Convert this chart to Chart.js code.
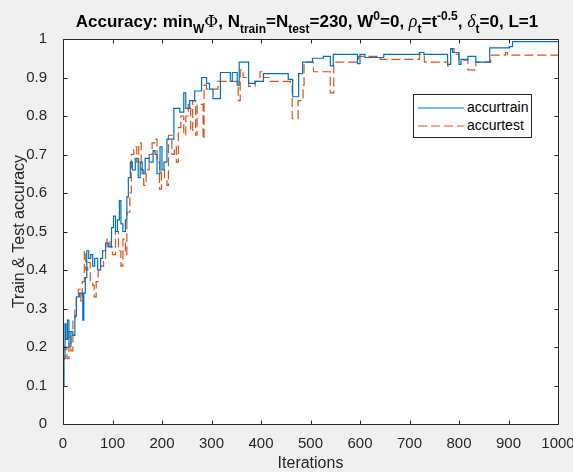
<!DOCTYPE html>
<html>
<head>
<meta charset="utf-8">
<script src="https://cdn.jsdelivr.net/npm/chart.js@4.4.0/dist/chart.umd.min.js"></script>
<style>
  body { margin: 0; background: #f0f0f0; }
  #wrap { position: relative; width: 573px; height: 472px; }
  #titulo {
    position: absolute; left: 0; width: 614px; top: 11px; text-align: center;
    font: bold 17px "Liberation Sans", Arial, sans-serif; color: #000; white-space: nowrap;
    line-height: 20px;
  }
  #titulo .sb { position: relative; top: 6px; font-size: 12px; }
  #titulo .sp { position: relative; top: -7px; font-size: 12px; }
  #titulo .gr { font-family: "DejaVu Serif", "Liberation Serif", serif; font-weight: normal; }
  #titulo .gi { font-family: "Liberation Serif", serif; font-style: italic; font-weight: normal; font-size: 18px; }
  #leyenda {
    position: absolute; left: 413px; top: 94px; width: 117px; height: 42px;
    background: #fff; border: 1px solid #262626;
    font: 14px "Liberation Sans", Arial, sans-serif; color: #000;
  }
  #leyenda svg { position: absolute; left: 4px; }
  #leyenda span { position: absolute; left: 53px; line-height: 16px; }
</style>
</head>
<body>
<div id="wrap">
  <canvas id="GraficaAccuracy" width="573" height="472"></canvas>
  <div id="titulo">Accuracy: min<span class="sb">W</span><span class="gr">&Phi;</span>, N<span class="sb">train</span>=N<span class="sb">test</span>=230, W<span class="sp">0</span>=0, <span class="gi">&rho;</span><span class="sb">t</span>=t<span class="sp">-0.5</span>, <span class="gi">&delta;</span><span class="sb">t</span>=0, L=1</div>
  <div id="leyenda">
    <svg width="46" height="4" style="top:11px"><line x1="0" y1="2" x2="46" y2="2" stroke="#0072BD" stroke-width="1.2"/></svg>
    <span style="top:4px">accurtrain</span>
    <svg width="46" height="4" style="top:29px"><line x1="0" y1="2" x2="46" y2="2" stroke="#D95319" stroke-width="1.2" stroke-dasharray="9,4"/></svg>
    <span style="top:22px">accurtest</span>
  </div>
</div>
<script>
// puntos de cambio (iteracion, exactitud)
var iterTrain = [0, 2, 4, 6, 9, 12, 16, 20, 24, 27, 33, 40, 42, 45, 48, 52, 56, 60, 64, 70, 76, 80, 86, 92, 98, 102, 106, 110, 114, 117, 121, 126, 129, 132, 136, 140, 146, 152, 156, 160, 166, 174, 182, 186, 190, 196, 200, 204, 210, 224, 236, 244, 248, 256, 266, 280, 290, 296, 303, 318, 338, 342, 352, 356, 375, 388, 405, 455, 464, 476, 484, 504, 526, 540, 546, 595, 600, 610, 648, 720, 729, 777, 783, 787, 800, 804, 818, 834, 862, 902, 908, 1000];
var accTrain = [0.10, 0.17, 0.26, 0.22, 0.27, 0.20, 0.24, 0.23, 0.28, 0.33, 0.34, 0.27, 0.34, 0.38, 0.45, 0.43, 0.44, 0.41, 0.43, 0.40, 0.43, 0.45, 0.47, 0.46, 0.51, 0.54, 0.50, 0.53, 0.58, 0.52, 0.50, 0.53, 0.59, 0.64, 0.68, 0.66, 0.69, 0.64, 0.68, 0.65, 0.69, 0.68, 0.71, 0.70, 0.65, 0.72, 0.66, 0.68, 0.74, 0.82, 0.81, 0.86, 0.82, 0.84, 0.865, 0.90, 0.885, 0.87, 0.845, 0.913, 0.89, 0.913, 0.88, 0.94, 0.885, 0.89, 0.91, 0.895, 0.85, 0.91, 0.94, 0.95, 0.955, 0.93, 0.96, 0.936, 0.96, 0.952, 0.96, 0.965, 0.96, 0.934, 0.975, 0.965, 0.934, 0.947, 0.955, 0.94, 0.977, 0.98, 0.993, 0.993];

var iterTest = [0, 1, 4, 8, 12, 16, 20, 24, 27, 31, 36, 39, 43, 46, 50, 55, 60, 63, 67, 71, 76, 82, 86, 89, 95, 100, 106, 112, 117, 121, 126, 129, 135, 138, 143, 149, 153, 158, 163, 168, 174, 180, 186, 190, 195, 199, 205, 210, 213, 220, 225, 229, 233, 238, 244, 248, 253, 258, 262, 268, 271, 283, 285, 290, 313, 354, 358, 364, 375, 388, 398, 405, 418, 459, 463, 475, 480, 485, 487, 506, 540, 547, 597, 641, 720, 730, 777, 783, 790, 800, 818, 834, 864, 894, 898, 1000];
var accTest = [0.06, 0.17, 0.20, 0.17, 0.24, 0.19, 0.27, 0.30, 0.33, 0.35, 0.32, 0.37, 0.45, 0.40, 0.42, 0.37, 0.36, 0.33, 0.37, 0.40, 0.41, 0.43, 0.45, 0.48, 0.46, 0.44, 0.50, 0.45, 0.41, 0.48, 0.44, 0.55, 0.60, 0.70, 0.72, 0.68, 0.73, 0.66, 0.62, 0.66, 0.70, 0.73, 0.74, 0.68, 0.61, 0.66, 0.64, 0.62, 0.75, 0.70, 0.72, 0.68, 0.77, 0.80, 0.75, 0.80, 0.83, 0.76, 0.84, 0.75, 0.83, 0.74, 0.88, 0.87, 0.89, 0.84, 0.92, 0.90, 0.877, 0.89, 0.915, 0.90, 0.89, 0.88, 0.793, 0.84, 0.84, 0.88, 0.94, 0.915, 0.86, 0.94, 0.955, 0.947, 0.96, 0.94, 0.93, 0.975, 0.96, 0.945, 0.92, 0.94, 0.958, 0.965, 0.958, 0.958];

var ticksX = [0, 100, 200, 300, 400, 500, 600, 700, 800, 900, 1000];
var ticksY = [0, 0.1, 0.2, 0.3, 0.4, 0.5, 0.6, 0.7, 0.8, 0.9, 1];

function Puntos(iters, accs){
    var pts = [];
    for (var i = 0; i < iters.length; i++) {
        pts.push({x: iters[i], y: accs[i]});
    }
    return pts;
}

var fuente = '"Liberation Sans", Arial, sans-serif';
var gris = '#262626';

// fondo blanco del area de la grafica y marco con marcas hacia dentro
var MarcoMatlab = {
    id: 'marcoMatlab',
    beforeDatasetsDraw: function (chart) {
        var a = chart.chartArea, ctx = chart.ctx;
        ctx.save();
        ctx.fillStyle = '#ffffff';
        ctx.fillRect(a.left, a.top, a.right - a.left, a.bottom - a.top);
        ctx.restore();
    },
    afterDraw: function (chart) {
        var a = chart.chartArea, ctx = chart.ctx;
        var sx = chart.scales.x, sy = chart.scales.y;
        var L = Math.round(a.left) + 0.5, R = Math.round(a.right) + 0.5;
        var T = Math.round(a.top) + 0.5, B = Math.round(a.bottom) + 0.5;
        ctx.save();
        ctx.strokeStyle = gris;
        ctx.lineWidth = 1;
        ctx.beginPath();
        ctx.rect(L, T, R - L, B - T);
        ticksX.forEach(function (v) {
            var px = Math.round(sx.getPixelForValue(v)) + 0.5;
            ctx.moveTo(px, B); ctx.lineTo(px, B - 4);
            ctx.moveTo(px, T); ctx.lineTo(px, T + 4);
        });
        ticksY.forEach(function (v) {
            var py = Math.round(sy.getPixelForValue(v)) + 0.5;
            ctx.moveTo(L, py); ctx.lineTo(L + 4, py);
            ctx.moveTo(R, py); ctx.lineTo(R - 4, py);
        });
        ctx.stroke();
        ctx.restore();
    }
};

var ctx = document.getElementById('GraficaAccuracy');
var grafica = new Chart(ctx, {
    type: 'line',
    data: {
        datasets: [
            {
                label: 'accurtrain',
                data: Puntos(iterTrain, accTrain),
                borderColor: '#0072BD',
                borderWidth: 1.2,
                stepped: true,
                pointRadius: 0,
                fill: false
            },
            {
                label: 'accurtest',
                data: Puntos(iterTest, accTest),
                borderColor: '#D95319',
                borderWidth: 1.2,
                borderDash: [9, 4],
                stepped: true,
                pointRadius: 0,
                fill: false
            }
        ]
    },
    options: {
        responsive: false,
        animation: false,
        devicePixelRatio: 1,
        layout: { padding: { top: 39, right: 0, left: 0, bottom: 0 } },
        plugins: {
            legend: { display: false },
            title: { display: false },
            tooltip: { enabled: false }
        },
        scales: {
            x: {
                type: 'linear',
                min: 0,
                max: 1000,
                afterFit: function (s) { s.height = 48; s.paddingLeft = 0; s.paddingRight = 15; },
                afterBuildTicks: function (s) { s.ticks = ticksX.map(function (v) { return {value: v}; }); },
                grid: { display: false },
                border: { display: false },
                ticks: {
                    color: gris, padding: 3, maxRotation: 0, font: { family: fuente, size: 15 },
                    callback: function (v) { return String(v); }
                },
                title: { display: true, text: 'Iterations', color: gris, padding: 0, font: { family: fuente, size: 16, lineHeight: 1 } }
            },
            y: {
                min: 0,
                max: 1,
                afterFit: function (s) { s.width = 63; s.paddingTop = 0; s.paddingBottom = 0; },
                afterBuildTicks: function (s) { s.ticks = ticksY.map(function (v) { return {value: v}; }); },
                grid: { display: false },
                border: { display: false },
                ticks: {
                    color: gris, padding: 8, font: { family: fuente, size: 15 },
                    callback: function (v) { return String(Math.round(v * 10) / 10); }
                },
                title: { display: true, text: 'Train & Test accuracy', color: gris, padding: { top: 12, bottom: 0 }, font: { family: fuente, size: 16, lineHeight: 1 } }
            }
        }
    },
    plugins: [MarcoMatlab]
});
</script>
</body>
</html>
